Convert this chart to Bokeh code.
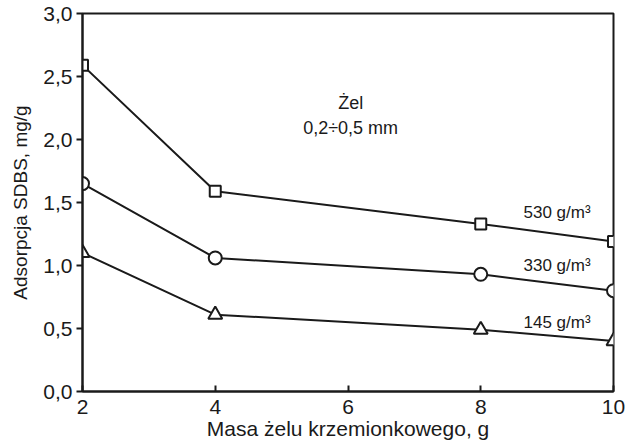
from bokeh.plotting import figure
from bokeh.embed import file_html
from bokeh.resources import INLINE
from bokeh.models import CustomJSTickFormatter, FixedTicker, Range1d
from bokeh.core.properties import value

mass = [2, 4, 8, 10]
ads_530 = [2.59, 1.59, 1.33, 1.19]
ads_330 = [1.65, 1.06, 0.93, 0.80]
ads_145 = [1.10, 0.61, 0.49, 0.40]
series_labels = ["530 g/m³", "330 g/m³", "145 g/m³"]
x_ticks = [2, 4, 6, 8, 10]
y_ticks = [0.0, 0.5, 1.0, 1.5, 2.0, 2.5, 3.0]

FONT = "Liberation Sans"
INK = "#1a1a1a"

p = figure(width=636, height=446, output_backend="svg", toolbar_location=None,
           x_range=Range1d(2, 10), y_range=Range1d(0, 3.0),
           min_border_left=82, min_border_right=23, min_border_top=13, min_border_bottom=55)
p.grid.visible = False
p.outline_line_color = INK
p.outline_line_width = 2
p.background_fill_color = "white"
p.border_fill_color = "white"

for ax in (p.xaxis[0], p.yaxis[0]):
    ax.axis_line_color = INK
    ax.axis_line_width = 2
    ax.major_tick_line_color = INK
    ax.major_tick_line_width = 2
    ax.minor_tick_line_color = None
    ax.major_label_text_font = FONT
    ax.major_label_text_font_size = "21px"
    ax.major_label_text_color = INK
    ax.axis_label_text_font = FONT
    ax.axis_label_text_font_style = "normal"
    ax.axis_label_text_color = INK

p.xaxis.ticker = FixedTicker(ticks=x_ticks)
p.xaxis.major_tick_in = 6
p.xaxis.major_tick_out = 0
p.xaxis.major_label_standoff = 8
p.xaxis.axis_label = "Masa żelu krzemionkowego, g"
p.xaxis.axis_label_text_font_size = "21px"
p.xaxis.axis_label_standoff = 0

p.yaxis.ticker = FixedTicker(ticks=y_ticks)
p.yaxis.major_tick_in = 0
p.yaxis.major_tick_out = 6
p.yaxis.major_label_standoff = 4
p.yaxis.formatter = CustomJSTickFormatter(code="return tick.toFixed(1).replace('.', ',');")
p.yaxis.axis_label = "Adsorpcja SDBS, mg/g"
p.yaxis.axis_label_text_font_size = "19px"
p.yaxis.axis_label_standoff = 9

p.line(mass, ads_530, line_color=INK, line_width=2)
p.line(mass, ads_330, line_color=INK, line_width=2)
p.line(mass, ads_145, line_color=INK, line_width=2)
p.scatter(mass, ads_530, marker="square", size=11, fill_color="white", line_color=INK, line_width=2)
p.scatter(mass, ads_330, marker="circle", size=13, fill_color="white", line_color=INK, line_width=2)
p.scatter(mass, ads_145, marker="triangle", size=14, fill_color="white", line_color=INK, line_width=2)

p.text(x=[9.15, 9.15, 9.15], y=[1.42, 1.0, 0.55], text=series_labels,
       text_font=value(FONT), text_font_size="17px", text_color=INK,
       text_align="center", text_baseline="middle")
p.text(x=[6.04, 6.04], y=[2.29, 2.09], text=["Żel", "0,2÷0,5 mm"],
       text_font=value(FONT), text_font_size="18px", text_color=INK,
       text_align="center", text_baseline="middle")

open("out.html", "w").write(file_html(p, INLINE))
